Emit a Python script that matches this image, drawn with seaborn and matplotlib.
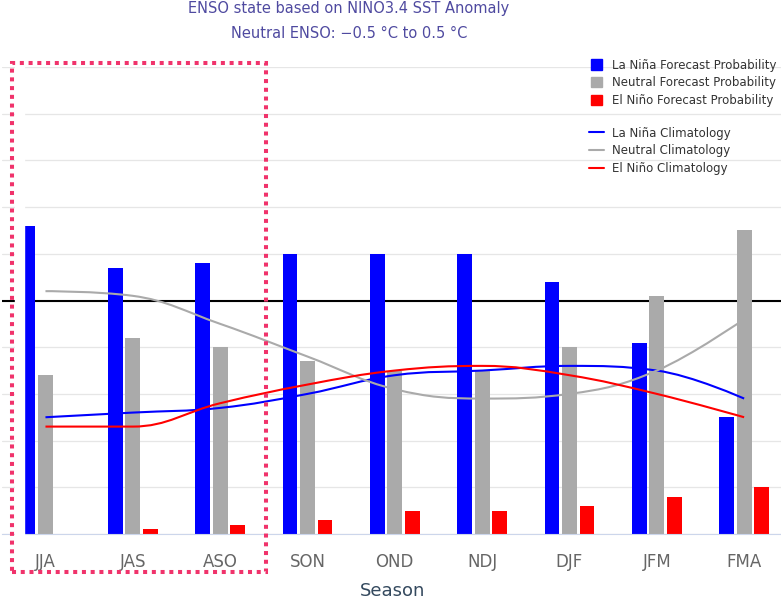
import matplotlib
matplotlib.use("Agg")
import matplotlib.pyplot as plt
import matplotlib.patches as mpatches
from matplotlib.path import Path
from matplotlib.lines import Line2D
import pandas as pd
import seaborn as sns

# values (percent)
seasons = ["JJA", "JAS", "ASO", "SON", "OND", "NDJ", "DJF", "JFM", "FMA"]
la_nina = [66, 57, 58, 60, 60, 60, 54, 41, 25]
neutral = [34, 42, 40, 37, 35, 35, 40, 51, 65]
el_nino = [0, 1, 2, 3, 5, 5, 6, 8, 10]

clim_la_nina = [25, 26, 27, 30, 34, 35, 36, 35, 29]
clim_neutral = [52, 51, 45, 38, 31, 29, 30, 35, 46]
clim_el_nino = [23, 23, 28, 32, 35, 36, 34, 30, 25]

categories = ["La Niña", "Neutral", "El Niño"]
colors = ["#0000ff", "#aaaaaa", "#ff0000"]

df = pd.DataFrame({
    "season": seasons * 3,
    "category": [c for c in categories for _ in seasons],
    "prob": la_nina + neutral + el_nino,
})


def spline_path(xs, ys, smoothing=1.5):
    # highcharts-like spline through the given points
    n = len(xs)
    denom = smoothing + 1
    left, right = [None] * n, [None] * n
    for i in range(1, n - 1):
        px, py = xs[i], ys[i]
        lx, ly = xs[i - 1], ys[i - 1]
        nx, ny = xs[i + 1], ys[i + 1]
        lcx, lcy = (smoothing * px + lx) / denom, (smoothing * py + ly) / denom
        rcx, rcy = (smoothing * px + nx) / denom, (smoothing * py + ny) / denom
        corr = (rcy - lcy) * (rcx - px) / (rcx - lcx) + py - rcy
        lcy += corr
        rcy += corr
        if lcy > ly and lcy > py:
            lcy = max(ly, py); rcy = 2 * py - lcy
        elif lcy < ly and lcy < py:
            lcy = min(ly, py); rcy = 2 * py - lcy
        if rcy > ny and rcy > py:
            rcy = max(ny, py); lcy = 2 * py - rcy
        elif rcy < ny and rcy < py:
            rcy = min(ny, py); lcy = 2 * py - rcy
        left[i], right[i] = (lcx, lcy), (rcx, rcy)
    verts, codes = [(xs[0], ys[0])], [Path.MOVETO]
    for i in range(1, n):
        verts += [right[i - 1] or (xs[i - 1], ys[i - 1]),
                  left[i] or (xs[i], ys[i]),
                  (xs[i], ys[i])]
        codes += [Path.CURVE4] * 3
    return Path(verts, codes)


sns.set_style("white")
plt.rcParams["font.family"] = ["DejaVu Sans"]

W, H = 781, 602
fig = plt.figure(figsize=(W / 100, H / 100), dpi=100)
ax = fig.add_axes([1.8 / W, (H - 534) / H, 786 / W, 467 / H])

sns.barplot(data=df, x="season", y="prob", hue="category", order=seasons,
            hue_order=categories, palette=colors, width=0.6, gap=0.15,
            saturation=1, linewidth=0, legend=False, ax=ax, zorder=3)

xs = list(range(len(seasons)))
for vals, col in zip([clim_la_nina, clim_neutral, clim_el_nino], colors):
    ax.add_patch(mpatches.PathPatch(spline_path(xs, vals), fill=False,
                                    edgecolor=col, lw=1.5, zorder=4))

ax.set_xlim(-0.5, len(seasons) - 0.5)
ax.set_ylim(0, 100)
ax.set_yticks(range(0, 101, 10))
ax.set_yticklabels([])
ax.grid(axis="y", color="#e6e6e6", lw=0.9)
ax.set_axisbelow(True)
ax.axhline(50, color="black", lw=1.5, zorder=2)
for s in ["left", "right", "top"]:
    ax.spines[s].set_visible(False)
ax.spines["bottom"].set_color("#ccd6eb")
ax.spines["bottom"].set_zorder(5)
ax.tick_params(axis="x", length=0, pad=14, labelsize=12, labelcolor="#666666")
ax.tick_params(axis="y", length=0)
ax.set_xlabel("")
ax.set_ylabel("")

fig.text(349 / W, 1 - 9 / H, "ENSO state based on NINO3.4 SST Anomaly",
         ha="center", va="center", fontsize=10.5, color="#4f4aa0")
fig.text(349 / W, 1 - 33 / H, "Neutral ENSO: \u22120.5 \u00b0C to 0.5 \u00b0C",
         ha="center", va="center", fontsize=10.5, color="#4f4aa0")
fig.text(393 / W, 1 - 591 / H, "Season", ha="center", va="center",
         fontsize=13, color="#34495e")

bar_handles = [mpatches.Patch(color=c) for c in colors]
bar_labels = [f"{c} Forecast Probability" for c in categories]
fig.legend(bar_handles, bar_labels, loc="upper left",
           bbox_to_anchor=(591 / W, 1 - 58.5 / H), frameon=False,
           fontsize=8.5, handlelength=0.95, handleheight=0.95,
           handletextpad=0.8, labelspacing=0.4, borderpad=0,
           borderaxespad=0, labelcolor="#333333")
line_handles = [Line2D([], [], color=c, lw=1.5) for c in colors]
line_labels = [f"{c} Climatology" for c in categories]
fig.legend(line_handles, line_labels, loc="upper left",
           bbox_to_anchor=(589 / W, 1 - 126.5 / H), frameon=False,
           fontsize=8.5, handlelength=1.27, handletextpad=0.65,
           labelspacing=0.4, borderpad=0, borderaxespad=0,
           labelcolor="#333333")

# white strip and dotted highlight box
fig.patches.append(mpatches.Rectangle((14.5 / W, 1 - 570 / H), 9.5 / W, 505 / H,
                                      transform=fig.transFigure, color="white",
                                      zorder=5, figure=fig))
fig.patches.append(mpatches.Rectangle((12 / W, 1 - 572 / H), 254 / W, 509 / H,
                                      transform=fig.transFigure, fill=False,
                                      edgecolor="#f0336b", lw=2.9,
                                      ls=(0, (1, 1.17)), zorder=6, figure=fig))

fig.savefig("out.png", dpi=100)
